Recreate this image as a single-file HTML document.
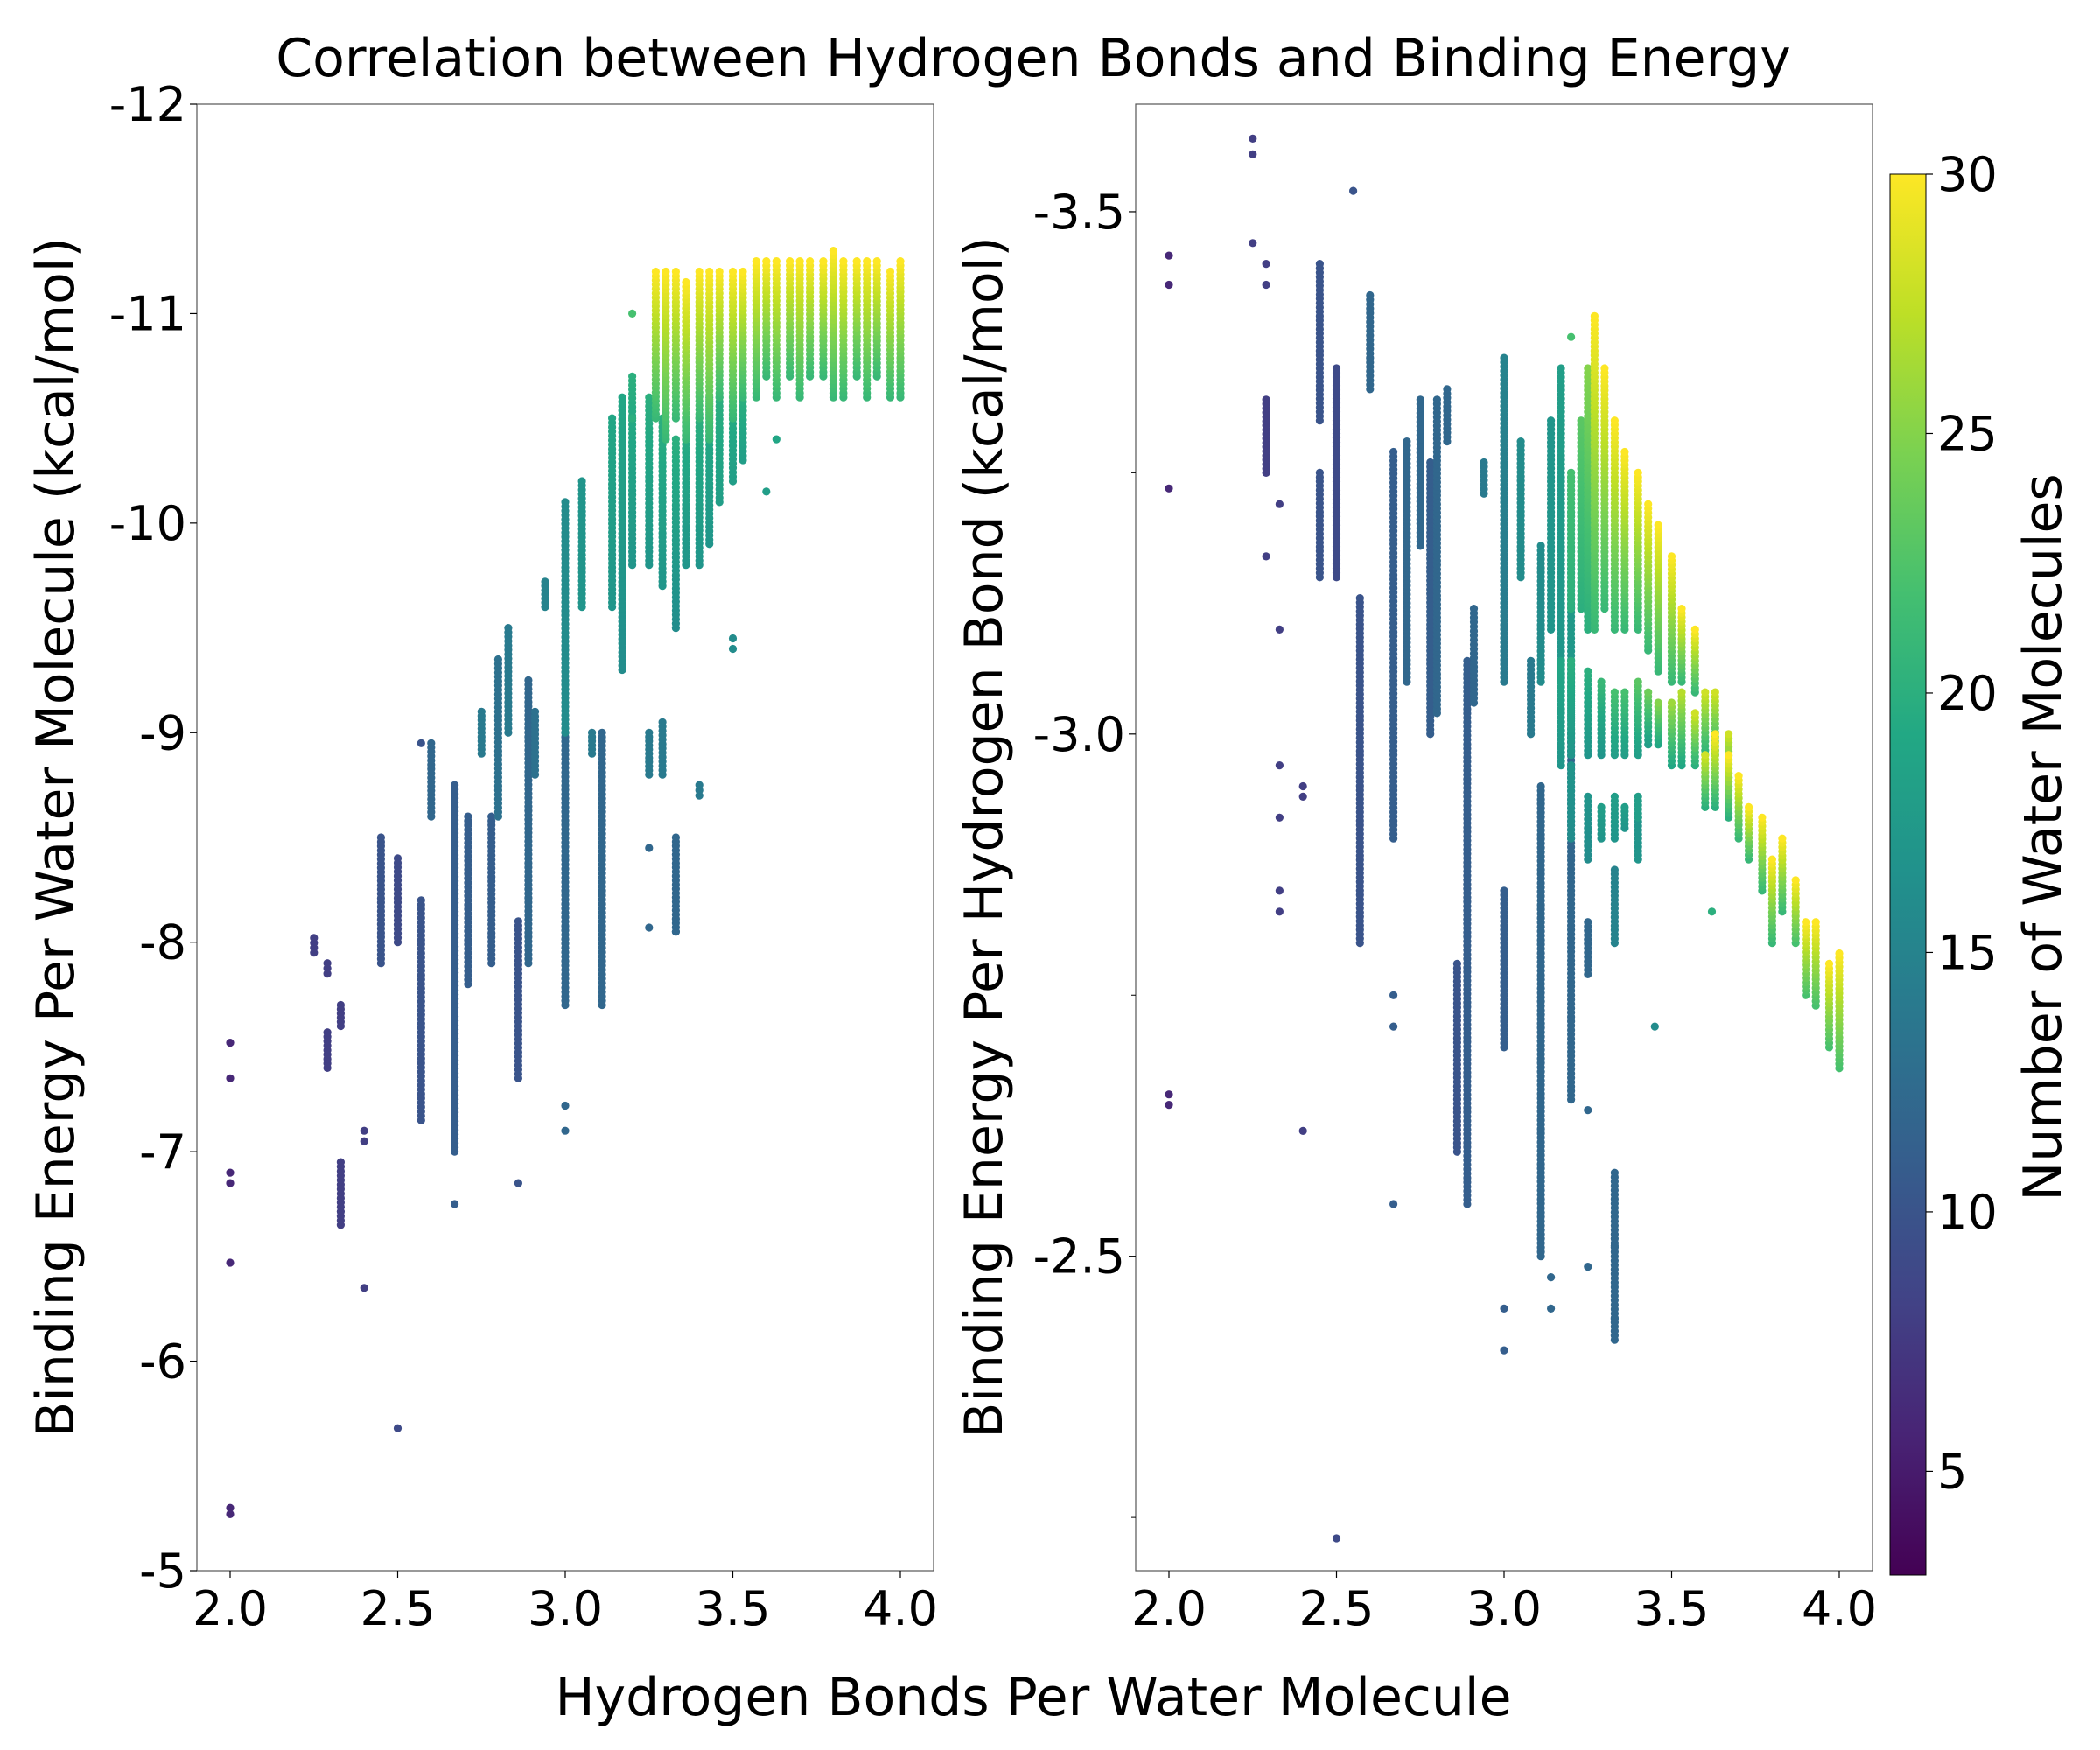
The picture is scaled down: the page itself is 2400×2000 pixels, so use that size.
<!DOCTYPE html>
<html><head><meta charset="utf-8">
<style>
html,body{margin:0;padding:0;background:#fff;}
svg{display:block;font-family:"DejaVu Sans","Liberation Sans",sans-serif;}
</style></head>
<body>
<svg id="chart" width="2400" height="2000" viewBox="0 0 2400 2000" xmlns="http://www.w3.org/2000/svg">
<defs>
<linearGradient id="vir" x1="0" y1="1" x2="0" y2="0">
<stop offset="0" stop-color="#440154"/><stop offset="0.1" stop-color="#482475"/><stop offset="0.2" stop-color="#414487"/><stop offset="0.3" stop-color="#355f8d"/><stop offset="0.4" stop-color="#2a788e"/><stop offset="0.5" stop-color="#21918c"/><stop offset="0.6" stop-color="#22a884"/><stop offset="0.7" stop-color="#44bf70"/><stop offset="0.8" stop-color="#7ad151"/><stop offset="0.9" stop-color="#bddf26"/><stop offset="1" stop-color="#fde725"/>
</linearGradient>
</defs>
<text x="1181" y="87" font-size="60" text-anchor="middle">Correlation between Hydrogen Bonds and Binding Energy</text>
<text x="1181" y="1960" font-size="60" text-anchor="middle">Hydrogen Bonds Per Water Molecule</text>
<text transform="translate(84,957) rotate(-90)" font-size="60" text-anchor="middle">Binding Energy Per Water Molecule (kcal/mol)</text>
<text transform="translate(1145,957) rotate(-90)" font-size="60" text-anchor="middle">Binding Energy Per Hydrogen Bond (kcal/mol)</text>
<text transform="translate(2355,957) rotate(-90)" font-size="60" text-anchor="middle">Number of Water Molecules</text>
<g id="left"></g>
<g id="right"></g>
<rect x="2160" y="199" width="41" height="1601" fill="url(#vir)" stroke="#000" stroke-width="1"/>
<g id="cbticks"></g>
</svg>
<script>
// ---- data ----
const xTicks = [2.0, 2.5, 3.0, 3.5, 4.0];
const leftYTicks = [-12, -11, -10, -9, -8, -7, -6, -5];
const rightYTicks = [-3.5, -3.0, -2.5];
const cbTicks = [5, 10, 15, 20, 25, 30];
// left isolated points [x, y, n]
const leftPoints = [[2,-7.52,6],[2,-7.35,6],[2,-6.9,6],[2,-6.85,6],[2,-6.47,6],[2,-5.3,6],[2,-5.27,6],
[2.4,-7.1,8],[2.4,-7.05,8],[2.4,-6.35,8],[2.5,-5.68,9],[2.57,-8.95,10],[2.67,-6.75,11],[2.86,-6.85,10],
[3,-7.22,12],[3,-7.1,12],[3.25,-8.45,12],[3.25,-8.07,12],[3.33,-8.05,12],[3.5,-9.4,16],[3.5,-9.45,16],[3.2,-11.0,22],[3.6,-10.15,18],[3.63,-10.4,19],[3.2,-10.5,20]];
// left columns [x, yLow, yHigh, nLow, nHigh]
const leftCols = [
[2.25,-7.95,-8.02,8,8],[2.29,-7.85,-7.9,8,8],[2.29,-7.4,-7.57,8,8],[2.33,-6.65,-6.95,8,8],[2.33,-7.6,-7.7,8,8],
[2.45,-7.9,-8.5,10,10],[2.5,-8.0,-8.4,9,9],[2.57,-7.15,-8.2,10,10],[2.6,-8.6,-8.95,12,12],[2.67,-7.0,-8.75,11,11],
[2.71,-7.8,-8.6,11,11],[2.75,-8.9,-9.1,14,14],[2.78,-7.9,-8.6,11,11],[2.8,-8.6,-9.35,13,13],[2.83,-9.0,-9.5,14,14],
[2.86,-7.35,-8.1,10,10],[2.89,-7.9,-9.25,12,12],[2.91,-8.8,-9.1,13,13],[2.94,-9.6,-9.72,15,15],[3.0,-7.7,-9.0,12,12],
[3.0,-9.0,-10.1,16,16],[3.05,-9.6,-10.2,17,17],[3.08,-8.9,-9.0,14,14],[3.11,-7.7,-9.0,12,12],[3.14,-9.6,-10.5,17,19],
[3.17,-9.3,-10.6,16,19],[3.2,-9.8,-10.7,17,20],[3.25,-8.8,-9.0,14,14],[3.25,-9.8,-10.6,17,20],[3.29,-8.8,-9.05,14,14],
[3.29,-9.7,-10.5,17,20],[3.33,-8.05,-8.5,12,12],[3.33,-9.5,-10.4,16,20],[3.36,-9.8,-10.5,17,20],[3.4,-8.7,-8.75,14,14],
[3.4,-9.8,-10.5,17,20],[3.43,-9.9,-10.6,17,20],[3.46,-10.1,-10.6,18,20],[3.5,-10.2,-10.6,18,20],[3.53,-10.3,-10.6,18,20],
[3.27,-10.5,-11.2,21,30],[3.3,-10.4,-11.2,21,30],[3.33,-10.5,-11.2,21,30],[3.36,-10.4,-11.15,21,30],[3.4,-10.5,-11.2,21,30],
[3.43,-10.4,-11.2,21,30],[3.46,-10.6,-11.2,21,30],[3.5,-10.5,-11.2,21,30],[3.53,-10.6,-11.2,21,30],[3.57,-10.6,-11.25,21,30],
[3.6,-10.7,-11.25,21,30],[3.63,-10.6,-11.25,21,30],[3.67,-10.7,-11.25,21,30],[3.7,-10.6,-11.25,21,30],[3.73,-10.7,-11.25,21,30],
[3.77,-10.7,-11.25,21,30],[3.8,-10.6,-11.3,21,30],[3.83,-10.6,-11.25,21,30],[3.87,-10.7,-11.25,21,30],[3.9,-10.6,-11.25,21,30],
[3.93,-10.7,-11.25,21,30],[3.97,-10.6,-11.2,21,30],[4.0,-10.6,-11.25,21,30]];
// right isolated points
const rightPoints = [[2,-3.458,6],[2,-3.43,6],[2,-3.235,6],[2,-2.655,6],[2,-2.645,6],[2.25,-3.57,8],[2.25,-3.555,8],[2.25,-3.47,8],
[2.29,-3.45,8],[2.29,-3.43,8],[2.29,-3.17,8],[2.33,-3.22,8],[2.33,-3.1,8],[2.33,-2.97,8],[2.33,-2.92,8],[2.33,-2.85,8],[2.33,-2.83,8],
[2.4,-2.95,8],[2.4,-2.94,8],[2.4,-2.62,8],[2.5,-2.23,9],[2.55,-3.52,10],[2.67,-2.75,11],[2.67,-2.72,11],[2.67,-2.55,11],
[3,-2.45,11],[3,-2.41,11],[3.14,-2.48,12],[3.14,-2.45,12],[3.25,-2.49,12],[3.25,-2.64,12],[3.33,-2.44,12],[3.33,-2.51,12],[3.62,-2.83,20],[3.45,-2.72,16],[3.2,-3.38,22]];
const rightCols = [
[2.29,-3.25,-3.32,8,8],[2.45,-3.3,-3.45,10,10],[2.45,-3.15,-3.25,10,10],[2.5,-3.15,-3.35,9,9],[2.57,-2.8,-3.13,10,10],
[2.6,-3.33,-3.42,12,12],[2.67,-2.9,-3.27,11,11],[2.71,-3.05,-3.28,12,12],[2.75,-3.18,-3.32,12,12],[2.78,-3.0,-3.26,11,11],
[2.8,-3.02,-3.32,12,12],[2.83,-3.28,-3.33,12,12],[2.86,-2.6,-2.78,10,10],[2.89,-2.55,-3.07,11,11],[2.91,-3.03,-3.12,12,12],
[2.94,-3.23,-3.26,14,14],[3.0,-3.05,-3.36,14,15],[3.0,-2.7,-2.85,11,11],[3.05,-3.15,-3.28,16,16],[3.08,-3.0,-3.07,14,14],
[3.11,-2.5,-2.95,12,12],[3.11,-3.05,-3.18,16,16],[3.14,-3.1,-3.3,17,17],[3.17,-3.05,-3.35,17,18],[3.2,-2.65,-3.0,12,12],
[3.2,-3.0,-3.25,17,18],[3.25,-2.77,-2.82,12,12],[3.33,-2.42,-2.58,12,12],[3.33,-2.8,-2.87,15,15],[3.4,-2.88,-2.92,17,17],
[3.2,-3.12,-3.25,20,22],[3.23,-3.12,-3.3,20,23],[3.25,-3.1,-3.35,20,25],[3.27,-3.1,-3.4,21,30],[3.3,-3.12,-3.35,21,30],
[3.33,-3.1,-3.3,21,30],[3.36,-3.1,-3.27,21,30],[3.4,-3.1,-3.25,21,30],[3.43,-3.08,-3.22,21,30],[3.46,-3.06,-3.2,21,30],
[3.5,-3.05,-3.17,21,30],[3.53,-3.05,-3.12,21,30],[3.57,-3.04,-3.1,21,30],
[3.17,-2.97,-3.07,17,19],[3.2,-2.98,-3.07,17,20],[3.25,-2.98,-3.06,17,20],[3.29,-2.98,-3.05,17,21],[3.33,-2.98,-3.04,18,22],
[3.36,-2.98,-3.04,18,22],[3.4,-2.98,-3.05,18,23],[3.43,-2.99,-3.04,18,24],[3.46,-2.99,-3.03,19,25],[3.5,-2.97,-3.03,19,26],
[3.53,-2.97,-3.04,19,27],[3.57,-2.97,-3.02,20,28],[3.6,-2.98,-3.04,20,28],[3.63,-2.98,-3.04,20,28],[3.67,-2.95,-3.0,20,28],
[3.6,-2.93,-2.98,20,28],[3.63,-2.93,-3.0,20,30],[3.67,-2.92,-2.98,20,30],[3.7,-2.9,-2.96,21,30],[3.73,-2.88,-2.93,21,30],
[3.77,-2.85,-2.92,21,30],[3.8,-2.8,-2.88,21,30],[3.83,-2.83,-2.9,21,30],[3.87,-2.8,-2.86,22,30],[3.9,-2.75,-2.82,22,30],
[3.93,-2.74,-2.82,22,30],[3.97,-2.7,-2.78,22,30],[4.0,-2.68,-2.79,22,30],
[3.2,-2.9,-2.97,16,17],[3.25,-2.88,-2.94,16,17],[3.29,-2.9,-2.93,17,18],[3.33,-2.9,-2.94,17,18],[3.36,-2.91,-2.93,17,18],[3.4,-2.92,-2.94,18,18]];

// ---- helpers ----
const NS = 'http://www.w3.org/2000/svg';
const VIR = ['#440154','#482475','#414487','#355f8d','#2a788e','#21918c','#22a884','#44bf70','#7ad151','#bddf26','#fde725'];
function hex(h){return [1,3,5].map(i=>parseInt(h.substr(i,2),16));}
function viridis(n){let t=(n-3)/27;t=Math.max(0,Math.min(1,t))*10;const i=Math.min(9,Math.floor(t)),f=t-i;
 const a=hex(VIR[i]),b=hex(VIR[i+1]);return 'rgb('+a.map((v,k)=>Math.round(v+(b[k]-v)*f)).join(',')+')';}
function mk(tag,attrs,parent){const e=document.createElementNS(NS,tag);for(const k in attrs)e.setAttribute(k,attrs[k]);parent.appendChild(e);return e;}

function panel(gid,x0,x1,yTop,yBot,vTop,vBot,yTicks,yMinor,yFmt,points,cols){
 const g=document.getElementById(gid);
 const xs=v=>x0+38+(v-2)/2*766;
 const ys=v=>yTop+(v-vTop)/(vBot-vTop)*(yBot-yTop);
 const dots=[];
 cols.forEach(c=>{const p0=ys(c[1]),p1=ys(c[2]);const k=Math.max(1,Math.round(Math.abs(p1-p0)/5));
  for(let i=0;i<=k;i++){const t=i/k;dots.push([c[0],c[1]+(c[2]-c[1])*t,c[3]+(c[4]-c[3])*t]);}});
 points.forEach(p=>dots.push(p));
 dots.sort((a,b)=>a[2]-b[2]);
 dots.forEach(d=>{const c=mk('circle',{cx:xs(d[0]).toFixed(1),cy:ys(d[1]).toFixed(1),r:4.6,fill:viridis(d[2])},g);
  
  });
 const fr=mk('rect',{x:x0,y:yTop,width:x1-x0,height:yBot-yTop,fill:'none',stroke:'#555','stroke-width':1.2},g);
 
 
 xTicks.forEach(v=>{const x=xs(v);mk('line',{x1:x,x2:x,y1:yBot,y2:yBot+8,stroke:'#000','stroke-width':1.2},g);
  const t=mk('text',{x:x,y:yBot+62,'font-size':54,'text-anchor':'middle'},g);t.textContent=v.toFixed(1);
  
  });
 yTicks.forEach(v=>{const y=ys(v);mk('line',{x1:x0-8,x2:x0,y1:y,y2:y,stroke:'#000','stroke-width':1.2},g);
  const t=mk('text',{x:x0-12,y:y+19,'font-size':54,'text-anchor':'end'},g);t.textContent=yFmt(v);
  
  });
 yMinor.forEach(v=>{const y=ys(v);mk('line',{x1:x0-5,x2:x0,y1:y,y2:y,stroke:'#000','stroke-width':1},g);});
}
const leftMinor=[];for(let v=-11.5;v>-5;v+=0.5)if(Math.abs(v-Math.round(v))>0.1)leftMinor.push(v);
panel('left',225,1067,119,1795,-12,-5,leftYTicks,leftMinor,v=>String(v),leftPoints,leftCols);
panel('right',1298,2140,119,1795,-3.603,-2.199,rightYTicks,[-3.25,-2.75,-2.25],v=>v.toFixed(1),rightPoints,rightCols);

const cg=document.getElementById('cbticks');
cbTicks.forEach(v=>{const y=1800-(v-3)/27*1601;
 mk('line',{x1:2201,x2:2209,y1:y,y2:y,stroke:'#000','stroke-width':1.2},cg);
 const t=mk('text',{x:2214,y:y+19,'font-size':54},cg);t.textContent=v;
 
 });
</script>
</body></html>
